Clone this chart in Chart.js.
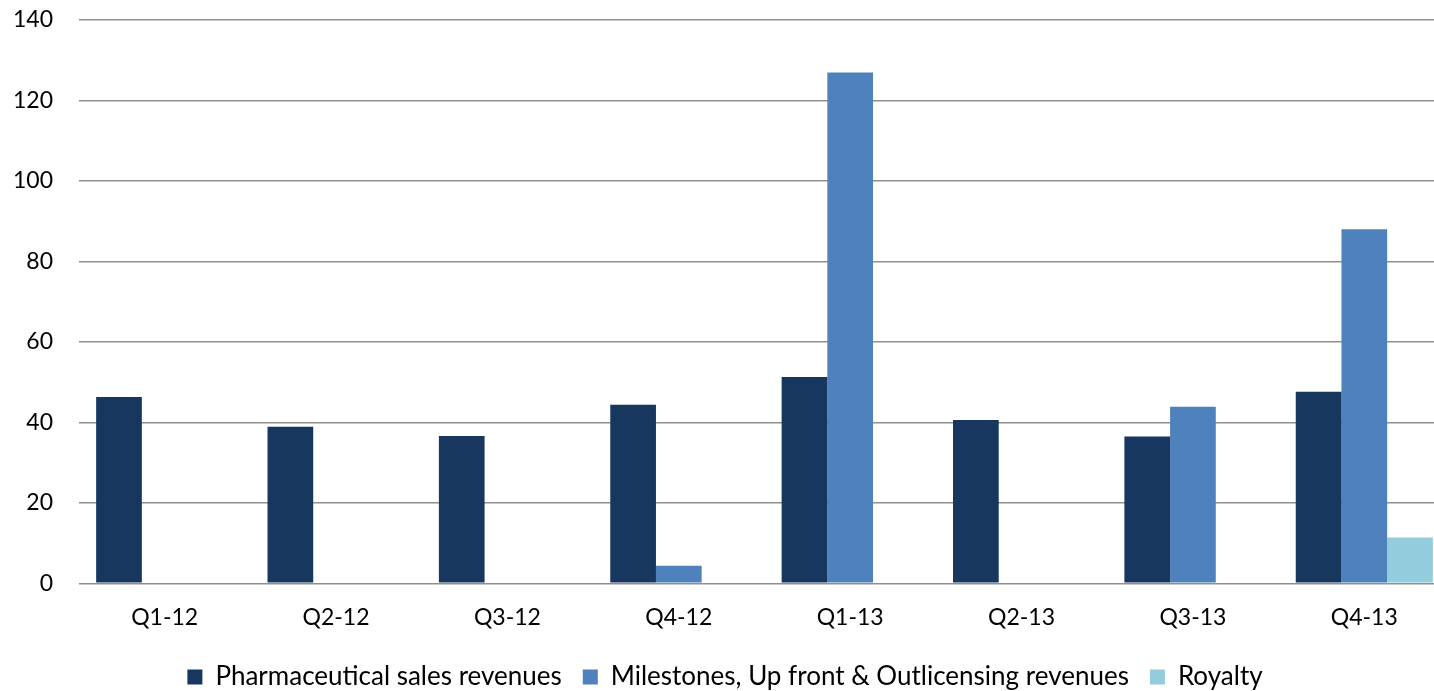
<!DOCTYPE html>
<html>
<head>
<meta charset="utf-8">
<script src="https://cdn.jsdelivr.net/npm/chart.js@4"></script>
<style>
  html, body { margin: 0; padding: 0; background: #fff; overflow: hidden; }
  #wrap { width: 1452px; height: 720px; margin-top: -20px; }
</style>
</head>
<body>
<div id="wrap"><canvas id="cht-revenues"></canvas></div>
<script>
var quarters = ['Q1-12', 'Q2-12', 'Q3-12', 'Q4-12', 'Q1-13', 'Q2-13', 'Q3-13', 'Q4-13'];
var pharmaSales = [46.3, 38.9, 36.6, 44.4, 51.3, 40.6, 36.5, 47.6];
var milestones = [0, 0, 0, 4.4, 126.9, 0, 43.9, 88.0];
var royalty = [0, 0, 0, 0, 0, 0, 0, 11.4];

var colours = {
    pharma: '#17375E',
    milestones: '#4F81BD',
    royalty: '#93CDDD'
};

var fontFamily = 'Lato, "Noto Sans", sans-serif';

var ctx = document.getElementById('cht-revenues');
var chtRevenues = new Chart(ctx, {
    type: 'bar',
    data: {
        labels: quarters,
        datasets: [
            { label: 'Pharmaceutical sales revenues', data: pharmaSales, backgroundColor: colours.pharma },
            { label: 'Milestones, Up front & Outlicensing revenues', data: milestones, backgroundColor: colours.milestones },
            { label: 'Royalty', data: royalty, backgroundColor: colours.royalty }
        ]
    },
    options: {
        responsive: true,
        maintainAspectRatio: false,
        animation: false,
        layout: { padding: { top: 0, right: 2, bottom: 0 } },
        datasets: { bar: { categoryPercentage: 0.8, barPercentage: 1.0 } },
        plugins: {
            tooltip: { enabled: false },
            legend: {
                position: 'bottom',
                labels: {
                    boxWidth: 15,
                    boxHeight: 15,
                    padding: 21,
                    color: '#000',
                    font: { family: fontFamily, size: 26 }
                }
            }
        },
        scales: {
            x: {
                grid: { display: false },
                border: { display: false },
                ticks: { color: '#000', padding: 12, font: { family: fontFamily, size: 23 } }
            },
            y: {
                min: 0,
                max: 140,
                afterFit: function (scale) { scale.width = 79; },
                ticks: { stepSize: 20, color: '#000', padding: 26, font: { family: fontFamily, size: 23 } },
                grid: { color: '#8f8f8f', lineWidth: 1.6, drawTicks: false },
                border: { display: false }
            }
        }
    }
});
</script>
</body>
</html>
